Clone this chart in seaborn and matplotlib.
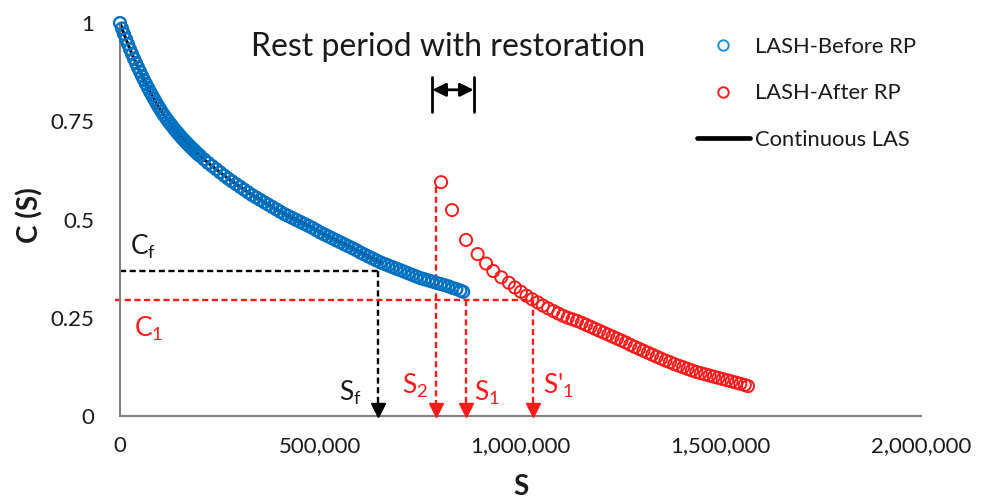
import matplotlib
matplotlib.use("Agg")
import matplotlib.pyplot as plt
from matplotlib.lines import Line2D
from matplotlib.transforms import ScaledTranslation
import seaborn as sns
import pandas as pd

# ---- data -------------------------------------------------------------
# LASH test, before the rest period (damage S vs pseudo stiffness C);
# readings are logged more often at the start of the test
before_s = [0, 5000, 10000, 15000, 20000, 25000, 30000, 35000, 40000, 45000,
            50000, 55000, 60000, 65000, 70000, 75000, 80000, 85000, 90000, 95000,
            100000, 105000, 110000, 115000, 120000, 125000, 130000, 135000, 140000, 145000,
            150000, 155000, 160000, 165000, 170000, 175000, 180000, 185000, 190000, 195000,
            200000, 210000, 220000, 230000, 240000, 250000, 260000, 270000, 280000, 290000,
            300000, 310000, 320000, 330000, 340000, 350000, 360000, 370000, 380000, 390000,
            400000, 410000, 420000, 430000, 440000, 450000, 460000, 470000, 480000, 490000,
            500000, 510000, 520000, 530000, 540000, 550000, 560000, 570000, 580000, 590000,
            600000, 610000, 620000, 630000, 640000, 650000, 660000, 670000, 680000, 690000,
            700000, 710000, 720000, 730000, 740000, 750000, 760000, 770000, 780000, 790000,
            800000, 810000, 820000, 830000, 840000, 850000, 857000]
before_c = [1.000, 0.986, 0.972, 0.959, 0.946, 0.933, 0.921, 0.909, 0.898, 0.887,
            0.876, 0.865, 0.855, 0.845, 0.835, 0.825, 0.816, 0.807, 0.798, 0.789,
            0.781, 0.773, 0.765, 0.758, 0.751, 0.744, 0.738, 0.731, 0.725, 0.719,
            0.713, 0.707, 0.702, 0.696, 0.691, 0.686, 0.681, 0.676, 0.671, 0.666,
            0.662, 0.653, 0.644, 0.636, 0.628, 0.620, 0.612, 0.604, 0.597, 0.590,
            0.583, 0.576, 0.569, 0.562, 0.556, 0.550, 0.544, 0.538, 0.532, 0.526,
            0.520, 0.514, 0.509, 0.504, 0.499, 0.494, 0.489, 0.484, 0.479, 0.473,
            0.467, 0.462, 0.457, 0.452, 0.447, 0.442, 0.437, 0.432, 0.427, 0.422,
            0.416, 0.411, 0.406, 0.401, 0.396, 0.391, 0.387, 0.383, 0.379, 0.375,
            0.371, 0.367, 0.363, 0.359, 0.355, 0.351, 0.348, 0.345, 0.342, 0.339,
            0.336, 0.333, 0.330, 0.326, 0.323, 0.319, 0.316]

# LASH test, after the rest period
after_s = [801700, 829000, 864000, 893000, 914000, 932000, 952000, 971000, 986000,
           1001000, 1015000, 1029000, 1043000, 1056000, 1069000, 1082000, 1094000,
           1106000, 1118000, 1130000, 1141000, 1153000, 1164000, 1175000, 1186000,
           1197000, 1208000, 1219000, 1230000, 1241000, 1252000, 1263000, 1274000,
           1285000, 1296000, 1307000, 1318000, 1329000, 1340000, 1351000, 1362000,
           1373000, 1384000, 1395000, 1406000, 1417000, 1428000, 1439000, 1450000,
           1461000, 1472000, 1483000, 1494000, 1505000, 1516000, 1527000, 1538000,
           1549000, 1560000, 1568000]
after_c = [0.595, 0.524, 0.448, 0.412, 0.388, 0.369, 0.353, 0.339, 0.327,
           0.316, 0.306, 0.297, 0.289, 0.281, 0.274, 0.267, 0.261,
           0.255, 0.250, 0.246, 0.242, 0.237, 0.232, 0.227, 0.222,
           0.217, 0.212, 0.207, 0.202, 0.197, 0.192, 0.187, 0.181,
           0.176, 0.171, 0.166, 0.161, 0.156, 0.151, 0.146, 0.141,
           0.137, 0.132, 0.128, 0.124, 0.120, 0.116, 0.112, 0.109,
           0.106, 0.103, 0.100, 0.097, 0.094, 0.091, 0.088, 0.085,
           0.082, 0.079, 0.076]

# continuous LAS test runs up to the failure point
las_end = 650000

# characteristic points
s_f, c_f = 645000, 0.370
c_1 = 0.295
s_2, s_2_top = 789000, 0.583
s_1 = 865000
s_1p = 1030000
rest_start, rest_end = 780000, 883000

x_ticks = [0, 500000, 1000000, 1500000, 2000000]
x_tick_labels = ["0", "500,000", "1,000,000", "1,500,000", "2,000,000"]
y_ticks = [0, 0.25, 0.5, 0.75, 1]
y_tick_labels = ["0", "0.25", "0.5", "0.75", "1"]

# ---- style ------------------------------------------------------------
sns.set_style("white")
plt.rcParams["font.family"] = ["Lato", "DejaVu Sans"]
plt.rcParams["mathtext.fontset"] = "custom"
plt.rcParams["mathtext.rm"] = "Lato"
plt.rcParams["mathtext.it"] = "Lato"

BLUE = "#0070C0"
RED = "#FF1A1A"
GREY = "#808080"
TXT = "#1a1a1a"

fig = plt.figure(figsize=(9.81, 5.01), dpi=100)
ax = fig.add_axes([120 / 981, 85 / 501, 801 / 981, 393 / 501])

before = pd.DataFrame({"S": before_s, "C": before_c})
after = pd.DataFrame({"S": after_s, "C": after_c})
las = before[before["S"] <= las_end]

# continuous LAS curve (under the hollow markers)
sns.lineplot(data=las, x="S", y="C", color="black", linewidth=2.2, ax=ax,
             zorder=2, legend=False)

sns.scatterplot(data=before, x="S", y="C", marker="o", s=72,
                facecolor="none", edgecolor=BLUE, linewidth=1.7, ax=ax,
                zorder=3, clip_on=False, legend=False)
sns.scatterplot(data=after, x="S", y="C", marker="o", s=76,
                facecolor="none", edgecolor=RED, linewidth=1.4, ax=ax,
                zorder=3, clip_on=False, legend=False)

# ---- guide lines ------------------------------------------------------
dash = (0, (2.6, 1.5))
lw = 1.7
ax.plot([0, s_f], [c_f, c_f], color="black", lw=lw, ls=dash, zorder=1)
ax.plot([s_f, s_f], [c_f, 0.02], color="black", lw=lw, ls=dash, zorder=1)
ax.plot([-12000, s_1p], [c_1, c_1], color=RED, lw=lw, ls=dash, zorder=1,
        clip_on=False)
ax.plot([s_2, s_2], [s_2_top, 0.02], color=RED, lw=lw, ls=dash, zorder=1)
ax.plot([s_1, s_1], [c_1, 0.02], color=RED, lw=lw, ls=dash, zorder=1)
ax.plot([s_1p, s_1p], [c_1, 0.02], color=RED, lw=lw, ls=dash, zorder=1)

# arrow heads sitting on the S axis
head = ax.transData + ScaledTranslation(0, 6.5 / 100, fig.dpi_scale_trans)
ax.plot([s_f], [0], marker="v", ms=9.5, color="black", transform=head,
        clip_on=False, zorder=4)
for xs in (s_2, s_1, s_1p):
    ax.plot([xs], [0], marker="v", ms=9.5, color=RED, transform=head,
            clip_on=False, zorder=4)

# rest period bracket
for xs in (rest_start, rest_end):
    ax.plot([xs, xs], [0.774, 0.863], color="black", lw=2, zorder=4)
ax.annotate("", xy=(rest_start, 0.83), xytext=(rest_end, 0.83),
            arrowprops=dict(arrowstyle="<|-|>,head_length=0.8,head_width=0.4",
                            color="black", lw=2, shrinkA=0, shrinkB=0))
ax.text(820000, 0.939, "Rest period with restoration", fontsize=23,
        ha="center", va="center", color=TXT)

# point labels
fs = 19
ax.text(24000, 0.43, r"C$_\mathregular{f}$", fontsize=fs, color=TXT,
        ha="left", va="center")
ax.text(36000, 0.222, r"C$_\mathregular{1}$", fontsize=fs, color=RED,
        ha="left", va="center")
ax.text(546000, 0.058, r"S$_\mathregular{f}$", fontsize=fs, color=TXT,
        ha="left", va="center")
ax.text(704000, 0.076, r"S$_\mathregular{2}$", fontsize=fs, color=RED,
        ha="left", va="center")
ax.text(885000, 0.058, r"S$_\mathregular{1}$", fontsize=fs, color=RED,
        ha="left", va="center")
ax.text(1055000, 0.076, r"S'$_\mathregular{1}$", fontsize=fs, color=RED,
        ha="left", va="center")

# ---- axes -------------------------------------------------------------
ax.set_xlim(0, 2000000)
ax.set_ylim(0, 1)
ax.set_xticks(x_ticks)
ax.set_xticklabels(x_tick_labels)
ax.set_yticks(y_ticks)
ax.set_yticklabels(y_tick_labels)
for side in ("top", "right"):
    ax.spines[side].set_visible(False)
for side in ("left", "bottom"):
    ax.spines[side].set_color(GREY)
    ax.spines[side].set_linewidth(1.5)
ax.tick_params(axis="both", direction="inout", length=11, width=1.5,
               color=GREY, labelsize=16, labelcolor=TXT)
ax.tick_params(axis="y", pad=13)
ax.tick_params(axis="x", pad=9)

ax.set_xlabel("S", fontsize=20, fontweight="bold", color=TXT)
ax.set_ylabel("C (S)", fontsize=20, fontweight="bold", color=TXT)
ax.xaxis.set_label_coords(0.5, -0.148)
ax.yaxis.set_label_coords(-0.095, 0.51)

# ---- legend -----------------------------------------------------------
handles = [
    Line2D([], [], ls="none", marker="o", ms=7.5, mfc="none", mec="#1E90D8",
           mew=1.4),
    Line2D([], [], ls="none", marker="o", ms=7.5, mfc="none", mec=RED, mew=1.4),
    Line2D([], [], color="black", lw=3.4, solid_capstyle="round"),
]
labels = ["LASH-Before RP", "LASH-After RP", "Continuous LAS"]
fig.legend(handles, labels, loc="upper left",
           bbox_to_anchor=(697 / 981, 1 - 37 / 501), frameon=False,
           fontsize=15.8, handlelength=2.4, handletextpad=0.25,
           labelspacing=1.2, borderpad=0, borderaxespad=0,
           labelcolor=TXT)

fig.savefig("out.png", dpi=100)
